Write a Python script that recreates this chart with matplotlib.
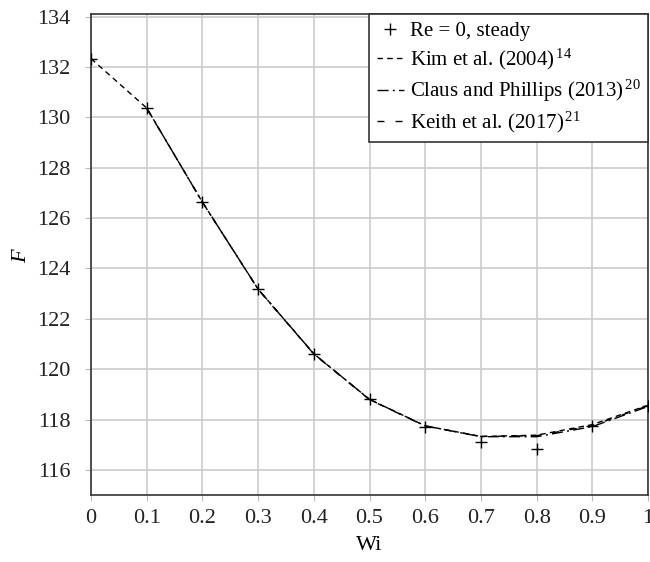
import matplotlib
matplotlib.use("Agg")
import matplotlib.pyplot as plt
import numpy as np

plt.rcParams["font.family"] = ["Liberation Serif", "DejaVu Serif"]
plt.rcParams["mathtext.fontset"] = "custom"
plt.rcParams["mathtext.rm"] = "Liberation Serif"
plt.rcParams["mathtext.it"] = "Liberation Serif:italic"

# data
wi = np.round(np.arange(0, 1.01, 0.1), 1)
steady = [132.33, 130.37, 126.63, 123.18, 120.61, 118.80, 117.71, 117.09, 116.85, 117.74, 118.55]

wi_kim = wi
kim = [132.33, 130.37, 126.63, 123.18, 120.61, 118.80, 117.75, 117.33, 117.38, 117.80, 118.57]

wi_claus = wi[1:]
claus = [130.37, 126.63, 123.18, 120.61, 118.80, 117.75, 117.32, 117.32, 117.72, 118.52]

wi_keith = wi[1:]
keith = [130.36, 126.64, 123.17, 120.60, 118.79, 117.74, 117.33, 117.36, 117.76, 118.55]

labels = ["Re = 0, steady",
          "Kim et al. (2004)$^{\\,14}$",
          "Claus and Phillips (2013)$^{\\,20}$",
          "Keith et al. (2017)$^{\\,21}$"]

fig = plt.figure(figsize=(6.5, 5.62), dpi=100)
ax = fig.add_axes([0.14, 0.119, 0.857, 0.856])

ax.plot(wi, steady, "k+", ms=8, mew=1.0, ls="none", label=labels[0], zorder=5)
ax.plot(wi_kim, kim, color="k", lw=1.0, dashes=(4, 3), label=labels[1])
ax.plot(wi_claus, claus, color="k", lw=1.0, dashes=(8, 3, 1.5, 3), label=labels[2])
ax.plot(wi_keith, keith, color="k", lw=1.0, dashes=(5, 8), label=labels[3])

ax.set_xlim(0, 1)
ax.set_ylim(115, 134.1)
ax.set_xticks(wi)
ax.set_xticklabels(["0"] + [f"{v:.1f}" for v in wi[1:-1]] + ["1"])
ax.set_yticks(np.arange(116, 135, 2))

ax.grid(True, color="#cccccc", lw=1.2)
ax.set_axisbelow(True)
for s in ax.spines.values():
    s.set_color("#333333")
    s.set_linewidth(1.2)
ax.tick_params(direction="out", length=4, color="#bbbbbb", labelsize=16,
               labelcolor="#222222", pad=6)
ax.tick_params(axis="y", pad=11)

ax.set_xlabel("Wi", fontsize=16, labelpad=6)
ax.set_ylabel("$F$", fontsize=16, labelpad=4)

leg = ax.legend(loc="upper right", fontsize=15, frameon=True, fancybox=False,
                framealpha=1, edgecolor="#333333", borderaxespad=0,
                handlelength=1.3, handletextpad=0.3, labelspacing=0.28,
                borderpad=0.35)
leg.get_frame().set_linewidth(1.2)

fig.savefig("out.png", dpi=100)
